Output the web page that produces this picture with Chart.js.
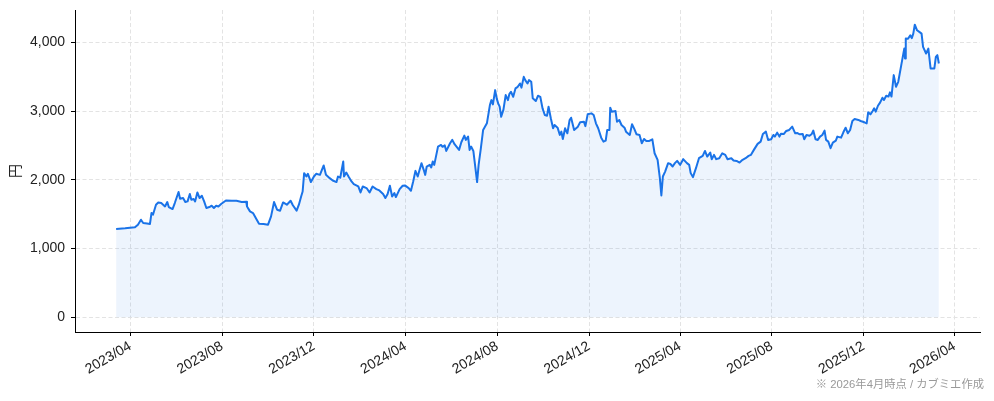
<!DOCTYPE html>
<html><head><meta charset="utf-8">
<script src="https://cdn.jsdelivr.net/npm/chart.js@4.4.1/dist/chart.umd.min.js"></script>
<style>html,body{margin:0;padding:0;background:#fff}#wrap{width:994px;height:401px;position:relative}</style>
</head><body><div id="wrap"><canvas id="c"></canvas></div>
<script>
const dates = [
'2023-03-13','2023-03-25','2023-04-07','2023-04-11','2023-04-15','2023-04-18','2023-04-23','2023-04-27','2023-04-29','2023-05-01',
'2023-05-05','2023-05-08','2023-05-12','2023-05-17','2023-05-20','2023-05-22','2023-05-27','2023-05-30','2023-06-04','2023-06-06',
'2023-06-10','2023-06-13','2023-06-16','2023-06-19','2023-06-21','2023-06-24','2023-06-26','2023-06-29','2023-07-02','2023-07-05',
'2023-07-08','2023-07-11','2023-07-15','2023-07-18','2023-07-21','2023-07-24','2023-07-27','2023-07-31','2023-08-06','2023-08-14',
'2023-08-20','2023-08-27','2023-09-02','2023-09-03','2023-09-07','2023-09-11','2023-09-16','2023-09-19','2023-09-25','2023-10-01',
'2023-10-05','2023-10-09','2023-10-13','2023-10-17','2023-10-21','2023-10-26','2023-10-31','2023-11-03','2023-11-08','2023-11-11',
'2023-11-14','2023-11-16','2023-11-18','2023-11-21','2023-11-23','2023-11-27','2023-12-01','2023-12-04','2023-12-09','2023-12-14',
'2023-12-17','2023-12-22','2023-12-26','2023-12-31','2024-01-02','2024-01-05','2024-01-09','2024-01-10','2024-01-13','2024-01-16',
'2024-01-20','2024-01-23','2024-01-29','2024-02-01','2024-02-04','2024-02-09','2024-02-13','2024-02-17','2024-02-22','2024-02-26',
'2024-03-02','2024-03-05','2024-03-08','2024-03-11','2024-03-14','2024-03-17','2024-03-19','2024-03-24','2024-03-28','2024-03-31',
'2024-04-05','2024-04-08','2024-04-11','2024-04-14','2024-04-17','2024-04-22','2024-04-25','2024-04-27','2024-04-29','2024-05-03',
'2024-05-05','2024-05-07','2024-05-09','2024-05-14','2024-05-18','2024-05-20','2024-05-23','2024-05-25','2024-05-30','2024-06-02',
'2024-06-05','2024-06-11','2024-06-14','2024-06-18','2024-06-20','2024-06-23','2024-06-25','2024-06-27','2024-06-30','2024-07-05',
'2024-07-07','2024-07-10','2024-07-13','2024-07-18','2024-07-22','2024-07-24','2024-07-26','2024-07-29','2024-07-31','2024-08-02',
'2024-08-04','2024-08-06','2024-08-09','2024-08-12','2024-08-15','2024-08-17','2024-08-19','2024-08-22','2024-08-25','2024-08-28',
'2024-08-31','2024-09-02','2024-09-05','2024-09-07','2024-09-10','2024-09-12','2024-09-15','2024-09-17','2024-09-21','2024-09-24',
'2024-09-27','2024-09-30','2024-10-03','2024-10-06','2024-10-08','2024-10-11','2024-10-14','2024-10-16','2024-10-20','2024-10-23',
'2024-10-25','2024-10-27','2024-10-30','2024-11-02','2024-11-05','2024-11-07','2024-11-11','2024-11-16','2024-11-19','2024-11-24',
'2024-11-26','2024-11-29','2024-12-04','2024-12-07','2024-12-10','2024-12-13','2024-12-17','2024-12-20','2024-12-23','2024-12-25',
'2024-12-28','2024-12-29','2024-12-31','2025-01-05','2025-01-07','2025-01-10','2025-01-13','2025-01-17','2025-01-19','2025-01-24',
'2025-01-27','2025-01-30','2025-02-02','2025-02-06','2025-02-09','2025-02-12','2025-02-15','2025-02-19','2025-02-23','2025-02-26',
'2025-03-02','2025-03-05','2025-03-07','2025-03-09','2025-03-12','2025-03-16','2025-03-19','2025-03-22','2025-03-25','2025-03-28',
'2025-04-01','2025-04-05','2025-04-10','2025-04-13','2025-04-15','2025-04-18','2025-04-22','2025-04-26','2025-05-01','2025-05-04',
'2025-05-07','2025-05-11','2025-05-13','2025-05-16','2025-05-19','2025-05-23','2025-05-27','2025-05-31','2025-06-03','2025-06-08',
'2025-06-11','2025-06-15','2025-06-19','2025-06-23','2025-06-27','2025-07-01','2025-07-04','2025-07-08','2025-07-13','2025-07-17',
'2025-07-20','2025-07-24','2025-07-27','2025-07-31','2025-08-03','2025-08-05','2025-08-08','2025-08-11','2025-08-13','2025-08-17',
'2025-08-20','2025-08-24','2025-08-28','2025-09-01','2025-09-04','2025-09-07','2025-09-11','2025-09-13','2025-09-16','2025-09-20',
'2025-09-23','2025-09-25','2025-09-28','2025-10-01','2025-10-04','2025-10-07','2025-10-10','2025-10-12','2025-10-15','2025-10-18',
'2025-10-21','2025-10-25','2025-10-27','2025-11-01','2025-11-04','2025-11-07','2025-11-10','2025-11-13','2025-11-16','2025-11-19',
'2025-11-24','2025-11-27','2025-12-02','2025-12-05','2025-12-07','2025-12-10','2025-12-13','2025-12-15','2025-12-17','2025-12-20',
'2025-12-23','2025-12-26','2025-12-28','2025-12-31','2026-01-03','2026-01-05','2026-01-07','2026-01-10','2026-01-13','2026-01-16',
'2026-01-20','2026-01-22','2026-01-24','2026-01-25','2026-01-26','2026-01-29','2026-02-01','2026-02-03','2026-02-05','2026-02-07',
'2026-02-10','2026-02-13','2026-02-16','2026-02-18','2026-02-22','2026-02-25','2026-02-28','2026-03-05','2026-03-07','2026-03-09',
'2026-03-11'
];
const prices = [
1285,1295,1309,1348,1420,1372,1365,1358,1517,1493,
1638,1671,1662,1613,1677,1604,1575,1662,1822,1725,
1735,1677,1686,1793,1710,1720,1686,1816,1735,1768,
1686,1590,1604,1623,1590,1623,1613,1652,1700,1696,
1696,1677,1680,1613,1541,1517,1420,1362,1358,1348,
1468,1677,1565,1551,1671,1638,1696,1630,1551,1638,
1758,1830,2097,2048,2087,1967,2048,2087,2072,2208,
2072,2024,1990,1967,2048,2030,2266,2048,2106,2048,
1976,1937,1903,1816,1903,1880,1816,1903,1865,1845,
1793,1735,1793,1913,1758,1807,1749,1865,1913,1918,
1880,1841,1976,2130,2048,2242,2145,2072,2193,2217,
2180,2266,2217,2483,2507,2480,2500,2420,2531,2580,
2517,2435,2546,2642,2580,2628,2435,2483,2420,1967,
2217,2459,2725,2821,3087,3159,3097,3304,3184,3111,
3063,2917,3020,3232,3159,3250,3280,3207,3329,3352,
3401,3340,3497,3449,3400,3449,3425,3184,3145,3222,
3207,3039,2942,2932,3063,2894,2749,2797,2758,2652,
2700,2594,2749,2676,2870,2903,2725,2773,2836,2845,
2780,2952,2966,2942,2821,2749,2613,2555,2570,2725,
2725,3048,2990,3000,2845,2870,2797,2758,2700,2652,
2807,2740,2662,2652,2531,2594,2565,2565,2589,2386,
2290,2024,1772,2048,2120,2242,2230,2193,2242,2275,
2217,2300,2242,2217,2097,2039,2169,2314,2348,2420,
2338,2396,2300,2362,2300,2314,2386,2362,2300,2314,
2280,2275,2251,2290,2314,2348,2362,2435,2522,2555,
2667,2700,2580,2589,2652,2628,2686,2628,2670,2667,
2710,2725,2773,2676,2680,2662,2665,2589,2652,2640,
2667,2715,2589,2580,2628,2652,2715,2580,2555,2459,
2541,2570,2628,2613,2691,2758,2676,2725,2855,2884,
2870,2855,2836,2821,2981,2952,3000,3039,2990,3077,
3126,3193,3160,3222,3210,3271,3210,3522,3352,3425,
3667,3787,3908,3763,4053,4050,4101,4060,4126,4256,
4174,4150,4126,3932,3836,3908,3619,3619,3787,3812,
3691
];
const xTickLabels = ['2023/04','2023/08','2023/12','2024/04','2024/08','2024/12','2025/04','2025/08','2025/12','2026/04'];
const yTicks = [0, 1000, 2000, 3000, 4000];
const yUnit = '円';
const footnote = '※ 2026年4月時点 / カブミエ作成';

const FONT = '"Liberation Sans", "Noto Sans CJK JP", sans-serif';
const DAY = 86400000;
const toDay = s => { const p = s.split(/[-\/]/).map(Number); return Date.UTC(p[0], p[1] - 1, p[2] || 1) / DAY; };
const points = dates.map((d, i) => ({ x: toDay(d), y: prices[i] }));
const xs = points.map(p => p.x);
const xLo = Math.min(...xs), xHi = Math.max(...xs);
const xPad = (xHi - xLo) * 0.05;
const yHi = Math.max(...prices), yLo = Math.min(0, ...prices);
const yPad = (yHi - yLo) * 0.05;
const xTickVals = xTickLabels.map(toDay);

const footnotePlugin = {
  id: 'footnote',
  afterDraw(chart) {
    const c = chart.ctx;
    c.save();
    c.font = '11.3px ' + FONT;
    c.fillStyle = '#999';
    c.textAlign = 'right';
    c.textBaseline = 'middle';
    c.fillText(footnote, chart.width - 10, chart.height - 16);
    c.restore();
  }
};

const gridOpts = { color: '#e3e3e3', lineWidth: 1, drawTicks: true, tickLength: 4, tickColor: '#000', tickWidth: 1 };
const borderOpts = { display: true, color: '#000', width: 1, dash: [4, 2.5] };

new Chart(document.getElementById('c'), {
  type: 'line',
  data: {
    datasets: [{
      data: points,
      borderColor: '#1a73e8',
      borderWidth: 2,
      pointRadius: 0,
      tension: 0,
      fill: 'origin',
      backgroundColor: 'rgba(26,115,232,0.08)',
      borderJoinStyle: 'round'
    }]
  },
  options: {
    responsive: true,
    maintainAspectRatio: false,
    animation: false,
    devicePixelRatio: 1,
    layout: { padding: { left: 0, right: 14, top: 10, bottom: 0 } },
    plugins: { legend: { display: false }, tooltip: { enabled: false } },
    scales: {
      x: {
        type: 'linear',
        min: xLo - xPad,
        max: xHi + xPad,
        afterBuildTicks: s => { s.ticks = xTickVals.map(v => ({ value: v })); },
        afterFit: s => { s.height = 69; s.paddingLeft = 0; s.paddingRight = 0; },
        ticks: {
          autoSkip: false, minRotation: 30, maxRotation: 30, padding: 2,
          color: '#222', font: { family: FONT, size: 14 },
          callback: (v, i) => xTickLabels[i]
        },
        grid: gridOpts,
        border: borderOpts
      },
      y: {
        min: yLo - yPad,
        max: yHi + yPad,
        afterBuildTicks: s => { s.ticks = yTicks.map(v => ({ value: v })); },
        afterFit: s => { s.width = 75; s.paddingTop = 0; s.paddingBottom = 0; },
        ticks: {
          padding: 6, color: '#222', font: { family: FONT, size: 14 },
          callback: v => Number(v).toLocaleString('en-US')
        },
        grid: gridOpts,
        border: borderOpts,
        title: { display: true, text: yUnit, color: '#222', font: { family: '"Noto Sans CJK JP", sans-serif', size: 14 }, padding: { top: 6, bottom: 0 } }
      }
    }
  },
  plugins: [footnotePlugin]
});
</script>
</body></html>
